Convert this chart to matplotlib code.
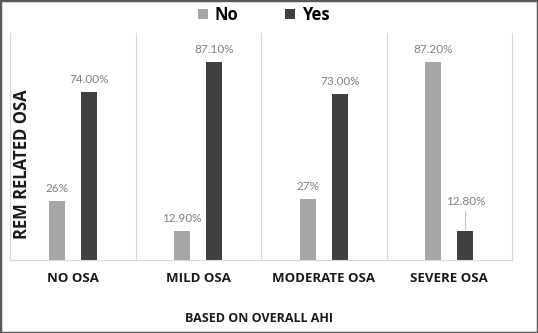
import numpy as np
import matplotlib.pyplot as plt
from matplotlib.patches import Rectangle

# Datos
categorias = ['NO OSA', 'MILD OSA', 'MODERATE OSA', 'SEVERE OSA']
no_vals = [26, 12.9, 27, 87.2]
yes_vals = [74.0, 87.1, 73.0, 12.8]
no_labels = ['26%', '12.90%', '27%', '87.20%']
yes_labels = ['74.00%', '87.10%', '73.00%', '12.80%']

plt.rcParams['font.family'] = ['Open Sans', 'DejaVu Sans']

fig = plt.figure(figsize=(5.38, 3.33), dpi=100)
ax = fig.add_axes([10 / 538, 73 / 333, 502 / 538, 227 / 333])

x = np.arange(len(categorias))
w = 0.13
off = 0.128
c_no = '#a6a6a6'
c_yes = '#404040'
c_txt = '#808080'

ax.bar(x - off, no_vals, w, color=c_no, label='No')
ax.bar(x + off, yes_vals, w, color=c_yes, label='Yes')

for i in range(len(categorias)):
    ax.text(x[i] - off, no_vals[i] + 3, no_labels[i], ha='center', va='bottom',
            fontsize=8.5, color=c_txt, family='Lato')
    if i == 3:
        # etiqueta desplazada con línea guía
        ax.plot([x[i] + off, x[i] + off], [yes_vals[i] + 1, yes_vals[i] + 9],
                color='#bfbfbf', lw=0.8)
        ax.text(x[i] + off, yes_vals[i] + 10.5, yes_labels[i], ha='center',
                va='bottom', fontsize=8.5, color=c_txt, family='Lato')
    else:
        ax.text(x[i] + off, yes_vals[i] + 3, yes_labels[i], ha='center',
                va='bottom', fontsize=8.5, color=c_txt, family='Lato')

ax.set_xlim(-0.5, 3.5)
ax.set_ylim(0, 100)
ax.set_yticks([])
ax.set_xticks(x)
ax.set_xticklabels(categorias, fontsize=9.5, fontweight='bold', color='#1a1a1a')
ax.tick_params(axis='x', length=0, pad=9)
for s in ['left', 'right', 'bottom']:
    ax.spines[s].set_color('#d9d9d9')
ax.spines['top'].set_visible(False)
for xv in [0.5, 1.5, 2.5]:
    ax.axvline(xv, color='#d9d9d9', lw=0.8)

fig.text(22 / 538, 1 - 164 / 333, 'REM RELATED OSA', rotation=90, ha='center',
         va='center', fontsize=12, fontweight='bold', color='#1a1a1a')
fig.text(259 / 538, 1 - 318 / 333, 'BASED ON OVERALL AHI', ha='center',
         va='center', fontsize=9, fontweight='bold', color='#1a1a1a')

fig.legend(loc='center', bbox_to_anchor=(264 / 538, 1 - 15 / 333), ncol=2,
           frameon=False, prop={'size': 12, 'weight': 'bold'}, handlelength=0.6,
           handleheight=0.6, columnspacing=2.8, handletextpad=0.4)

fig.patches.append(Rectangle((0, 0), 1, 1, transform=fig.transFigure,
                             fill=False, edgecolor='#595959', lw=2.5))

fig.savefig('out.png', dpi=100)
